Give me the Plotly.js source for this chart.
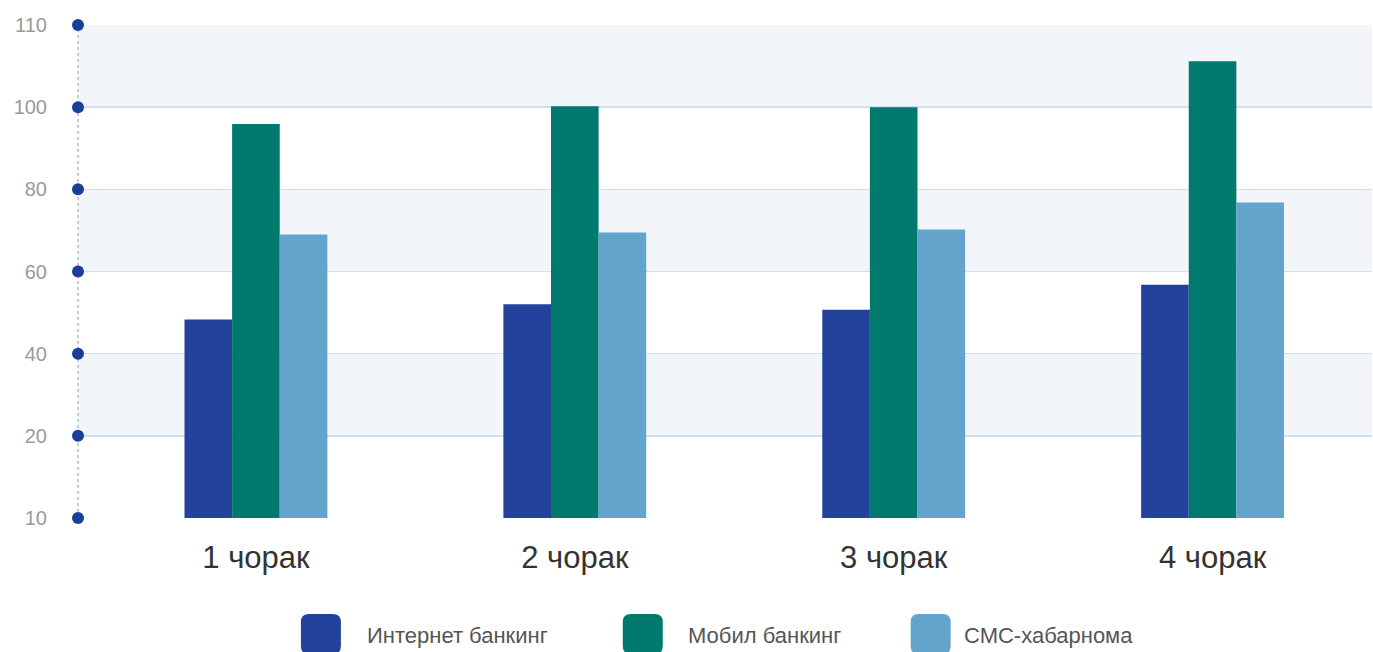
<!DOCTYPE html>
<html>
<head>
<meta charset="utf-8">
<script src="https://cdn.plot.ly/plotly-3.0.1.min.js"></script>
<style>html,body{margin:0;padding:0;background:#fff;}#chart{width:1373px;height:652px;}</style>
</head>
<body>
<div id="chart"></div>
<script>
// ---- data ----
const categories = ['1 чорак', '2 чорак', '3 чорак', '4 чорак'];
const seriesNames = ['Интернет банкинг', 'Мобил банкинг', 'СМС-хабарнома'];
const internetBanking = [48.3, 52.0, 50.7, 56.8];
const mobileBanking = [95.9, 100.2, 100.0, 111.2];
const smsNotify = [69.0, 69.5, 70.2, 76.8];
const yTickVals = [0, 20, 40, 60, 80, 100, 120];
const yTickText = ['10', '20', '40', '60', '80', '100', '110'];
const bandRanges = [[20, 40], [60, 80], [100, 120]];

// ---- style ----
const colors = ['#22429c', '#00796f', '#62a4cc'];
const W = 1373, H = 652;
const L = 78, R = 0.5, T = 25, B = 134;
const plotW = W - L - R, plotH = H - T - B;
const yMax = 120;
const px2x = p => (p - L) / plotW;
const px2y = p => (H - B - p) / plotH;
const FONT = 'Liberation Sans, Arial, sans-serif';

const values = [internetBanking, mobileBanking, smsNotify];
const traces = values.map((v, i) => ({
  type: 'bar', x: categories, y: v, name: seriesNames[i],
  marker: { color: colors[i], line: { width: 0 } },
  hoverinfo: 'skip'
}));

const shapes = [];
bandRanges.forEach(r => shapes.push({
  type: 'rect', layer: 'below', xref: 'paper', yref: 'y',
  x0: 0, x1: 1, y0: r[0], y1: r[1], fillcolor: '#f2f6fb', line: { width: 0 }
}));
shapes.push({
  type: 'line', layer: 'above', xref: 'paper', yref: 'paper',
  x0: 0, x1: 0, y0: 0, y1: 1, line: { color: '#b3bccb', width: 1.5, dash: 'dot' }
});
yTickVals.forEach(v => shapes.push({
  type: 'circle', layer: 'above', xref: 'paper', yref: 'paper',
  xsizemode: 'pixel', ysizemode: 'pixel', xanchor: 0, yanchor: v / yMax,
  x0: -6, x1: 6, y0: -6, y1: 6, fillcolor: '#1b3d9c', line: { width: 0 }
}));

// legend
const legendSwatchPx = [321, 643, 931];
const legendTextPx = [365, 686, 962];
const legendY = 634;
const rr = 'M -20,-12 Q -20,-20 -12,-20 L 12,-20 Q 20,-20 20,-12 L 20,12 Q 20,20 12,20 L -12,20 Q -20,20 -20,12 Z';
const annotations = [];
seriesNames.forEach((n, i) => {
  shapes.push({
    type: 'path', xref: 'paper', yref: 'paper', xsizemode: 'pixel', ysizemode: 'pixel',
    xanchor: px2x(legendSwatchPx[i]), yanchor: px2y(legendY), path: rr,
    fillcolor: colors[i], line: { width: 0 }
  });
  annotations.push({
    xref: 'paper', yref: 'paper', x: px2x(legendTextPx[i]), y: px2y(legendY + 1),
    xanchor: 'left', yanchor: 'middle', showarrow: false, text: n,
    font: { family: FONT, size: 22, color: '#555' }
  });
});

const layout = {
  width: W, height: H,
  margin: { l: L, r: R, t: T, b: B, pad: 0 },
  paper_bgcolor: '#fff', plot_bgcolor: '#fff',
  showlegend: false, hovermode: false,
  barmode: 'group', bargap: 0.552, bargroupgap: 0,
  font: { family: FONT },
  xaxis: {
    type: 'category', range: [-0.558, 3.5], showgrid: false, zeroline: false,
    showline: false, ticks: '', ticklabelstandoff: 18,
    tickfont: { size: 31, color: '#333' }, fixedrange: true
  },
  yaxis: {
    range: [0, yMax], tickvals: yTickVals, ticktext: yTickText,
    showgrid: true, gridcolor: '#cfe0f0', gridwidth: 1.5, zeroline: false,
    showline: false, ticks: '', ticklabelstandoff: 30,
    tickfont: { size: 20, color: '#9a9a9a' }, fixedrange: true
  },
  shapes: shapes,
  annotations: annotations
};

Plotly.newPlot('chart', traces, layout, { displayModeBar: false, staticPlot: true });
</script>
</body>
</html>
